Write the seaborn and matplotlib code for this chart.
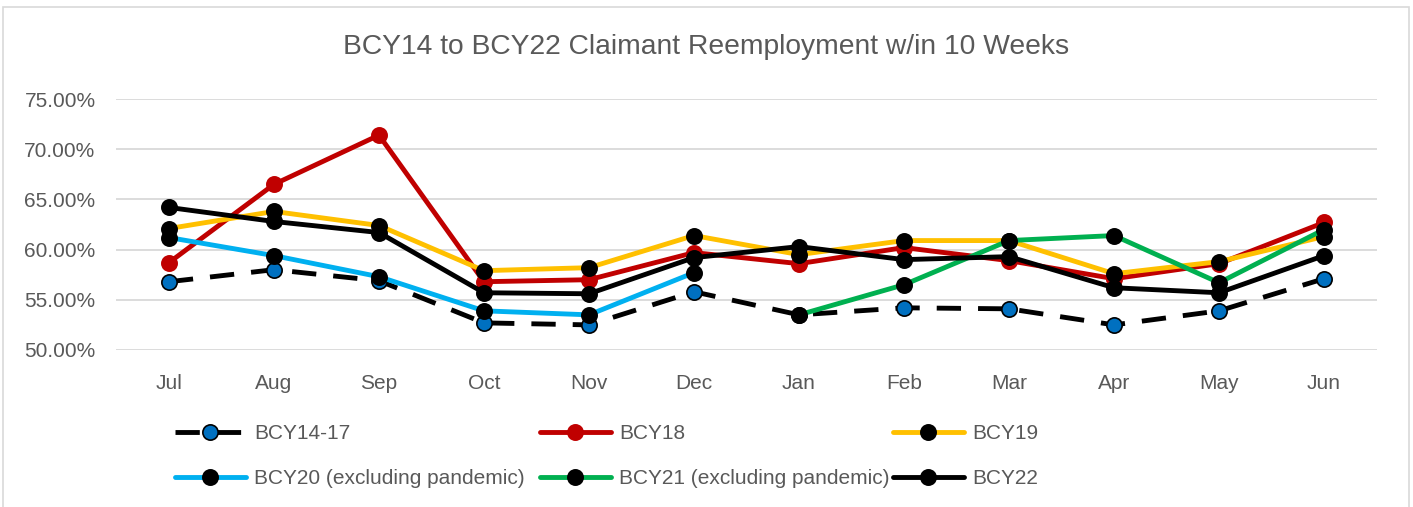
import numpy as np
import pandas as pd
import matplotlib
matplotlib.use("Agg")
import matplotlib.pyplot as plt
from matplotlib.patches import Rectangle
import seaborn as sns

sns.set_theme(style="white")
plt.rcParams['font.family'] = ['Liberation Sans', 'DejaVu Sans']

# data
months = ["Jul", "Aug", "Sep", "Oct", "Nov", "Dec",
          "Jan", "Feb", "Mar", "Apr", "May", "Jun"]
bcy14_17 = [56.8, 58.0, 56.9, 52.7, 52.5, 55.8, 53.5, 54.2, 54.1, 52.5, 53.9, 57.1]
bcy18 = [58.7, 66.5, 71.4, 56.8, 57.0, 59.7, 58.6, 60.2, 58.9, 57.1, 58.6, 62.7]
bcy19 = [62.1, 63.8, 62.4, 57.9, 58.2, 61.4, 59.5, 60.9, 60.9, 57.6, 58.8, 61.3]
bcy20 = [61.2, 59.4, 57.3, 53.9, 53.5, 57.7, None, None, None, None, None, None]
bcy21 = [None, None, None, None, None, None, 53.5, 56.5, 60.9, 61.4, 56.7, 62.0]
bcy22 = [64.2, 62.8, 61.7, 55.7, 55.6, 59.2, 60.3, 59.0, 59.3, 56.2, 55.7, 59.4]

series = {
    "BCY14-17": bcy14_17,
    "BCY18": bcy18,
    "BCY19": bcy19,
    "BCY20 (excluding pandemic)": bcy20,
    "BCY21 (excluding pandemic)": bcy21,
    "BCY22": bcy22,
}
line_colors = {
    "BCY14-17": "black",
    "BCY18": "#C00000",
    "BCY19": "#FFC000",
    "BCY20 (excluding pandemic)": "#00B0F0",
    "BCY21 (excluding pandemic)": "#00B050",
    "BCY22": "black",
}
marker_colors = {
    "BCY14-17": "#0070C0",
    "BCY18": "#C00000",
    "BCY19": "black",
    "BCY20 (excluding pandemic)": "black",
    "BCY21 (excluding pandemic)": "black",
    "BCY22": "black",
}

df = pd.DataFrame(series, dtype=float)
df["x"] = np.arange(len(months))

fig = plt.figure(figsize=(14.13, 5.07), dpi=100)
ax = fig.add_axes([0.0824, 0.3097, 0.8918, 0.495])

grey = "#595959"
for name in series:
    d = df[["x", name]].dropna()
    dashed = name == "BCY14-17"
    sns.lineplot(x=d["x"], y=d[name], ax=ax, color=line_colors[name],
                 lw=3.5, marker="o", markersize=11,
                 markerfacecolor=marker_colors[name],
                 markeredgecolor="black" if name != "BCY18" else "#C00000",
                 markeredgewidth=1.2,
                 linestyle=(0, (5, 3.5)) if dashed else "-",
                 label=name, zorder=3)

ax.set_xlim(-0.5, len(months) - 0.5)
ax.set_ylim(50, 75)
ax.set_yticks(np.arange(50, 76, 5))
ax.set_yticklabels([f"{v:.2f}%" for v in np.arange(50, 76, 5)])
ax.set_xticks(np.arange(len(months)))
ax.set_xticklabels(months)
ax.set_xlabel("")
ax.set_ylabel("")
ax.yaxis.grid(True, color="#D9D9D9", lw=1.3)
ax.tick_params(axis="both", colors=grey, labelsize=15, length=0)
ax.tick_params(axis="x", pad=17)
ax.tick_params(axis="y", pad=15)
for s in ax.spines.values():
    s.set_visible(False)

fig.text(0.5, 1 - 47 / 507, "BCY14 to BCY22 Claimant Reemployment w/in 10 Weeks",
         fontsize=20.3, color=grey, ha="center", va="center")

# legend: three columns of two rows, each column placed on its own
handles, labels = ax.get_legend_handles_labels()
if ax.get_legend():
    ax.get_legend().remove()
col_x = [175, 540, 893]
for c in range(3):
    idx = [c, c + 3]
    fig.legend([handles[i] for i in idx], [labels[i] for i in idx],
               loc="center left", frameon=False,
               bbox_to_anchor=(col_x[c] / 1413, 1 - 456 / 507),
               fontsize=15, handlelength=3.4, handletextpad=0.4,
               labelspacing=1.25, labelcolor=grey,
               borderpad=0, borderaxespad=0)

fig.patches.append(Rectangle((3 / 1413, -0.01), 1 - 7 / 1413, 1 - 7 / 507 + 0.01,
                             transform=fig.transFigure, fill=False,
                             edgecolor="#D9D9D9", lw=1.2))

fig.savefig("out.png", dpi=100)
